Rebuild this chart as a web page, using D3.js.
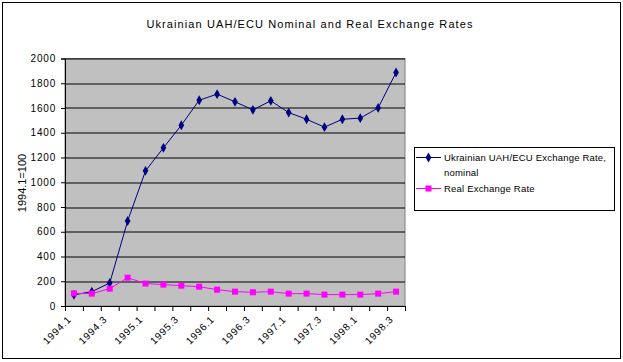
<!DOCTYPE html>
<html>
  <head>
    <script src="https://d3js.org/d3.v7.min.js"></script>
    <style>
      body { margin: 0; background: #fff; }
      text { font-family: "Liberation Sans", Arial, sans-serif; }
    </style>
  </head>
  <body>
    <script>

      // quarters, 1994.1 .. 1998.3
      var quarters = ["1994.1","1994.2","1994.3","1994.4","1995.1","1995.2","1995.3","1995.4",
                      "1996.1","1996.2","1996.3","1996.4","1997.1","1997.2","1997.3","1997.4",
                      "1998.1","1998.2","1998.3"];

      var nominal = [90, 116, 186, 687, 1092, 1278, 1461, 1663, 1712, 1650, 1585, 1658,
                     1563, 1509, 1445, 1509, 1518, 1601, 1887];

      var real = [102, 100, 140, 229, 181, 173, 164, 156, 132, 116, 111, 116,
                  100, 100, 92, 92, 92, 100, 116];

      var yTicks = [0, 200, 400, 600, 800, 1000, 1200, 1400, 1600, 1800, 2000];

      var seriesNames = ["Ukrainian UAH/ECU Exchange Rate,", "nominal", "Real Exchange Rate"];

      var W = 623, H = 362;
      var margin = {top: 58.5, left: 65, right: 218, bottom: 56};
      var w = W - margin.left - margin.right;
      var h = H - margin.top - margin.bottom;

      var svg = d3.select("body").append("svg")
        .attr("width", W)
        .attr("height", H);

      // outer frame
      svg.append("rect")
        .attr("x", 2.5).attr("y", 2.5)
        .attr("width", W - 5).attr("height", H - 6)
        .attr("fill", "#fff")
        .attr("stroke", "#000")
        .attr("stroke-width", 1);

      svg.append("text")
        .attr("x", 310).attr("y", 28)
        .attr("text-anchor", "middle")
        .style("font-size", "11px")
        .style("letter-spacing", "1.1px")
        .text("Ukrainian UAH/ECU Nominal and Real Exchange Rates");

      var g = svg.append("g")
        .attr("transform", `translate(${margin.left},${margin.top})`);

      var x = d3.scaleBand()
        .domain(quarters)
        .range([0, w])
        .padding(0);

      var xEdge = d3.scaleLinear()
        .domain([0, quarters.length])
        .range([0, w]);

      var y = d3.scaleLinear()
        .domain([0, 2000])
        .range([h, 0]);

      // plot area
      g.append("rect")
        .attr("width", w).attr("height", h)
        .attr("fill", "#c0c0c0")
        .attr("stroke", "#808080");

      // gridlines
      g.selectAll(".grid")
        .data(yTicks.slice(1))
        .enter().append("line")
        .attr("x1", 0).attr("x2", w)
        .attr("y1", d => Math.round(y(d)) + 0.5)
        .attr("y2", d => Math.round(y(d)) + 0.5)
        .attr("stroke", "#000");

      // y axis
      var yAxis = g.append("g")
        .call(d3.axisLeft(y).tickValues(yTicks).tickSize(4).tickPadding(5).tickFormat(d3.format("d")));
      yAxis.select(".domain").attr("stroke", "#000");
      yAxis.selectAll("text")
        .style("font-size", "10px")
        .style("letter-spacing", "0.8px")
        .attr("fill", "#000");

      // x axis with ticks on category edges
      var xAxis = g.append("g")
        .attr("transform", `translate(0,${h})`)
        .call(d3.axisBottom(xEdge).tickValues(d3.range(quarters.length + 1)).tickSize(5).tickFormat(""));
      xAxis.select(".domain").attr("stroke", "#000");

      g.selectAll(".xlab")
        .data(quarters.filter((d, i) => i % 2 === 0))
        .enter().append("text")
        .attr("text-anchor", "end")
        .attr("transform", d => `translate(${x(d) + x.bandwidth() / 2 - 2},${h + 14}) rotate(-45)`)
        .style("font-size", "10px")
        .style("letter-spacing", "0.8px")
        .text(d => d);

      // y label
      svg.append("text")
        .attr("transform", "translate(26,183) rotate(-90)")
        .attr("text-anchor", "middle")
        .style("font-size", "11px")
        .text("1994.1=100");

      var line = d3.line()
        .x((d, i) => x(quarters[i]) + x.bandwidth() / 2)
        .y(d => y(d));

      g.append("path")
        .datum(nominal)
        .attr("d", line)
        .attr("fill", "none")
        .attr("stroke", "#000080")
        .attr("stroke-width", 1);

      g.append("path")
        .datum(real)
        .attr("d", line)
        .attr("fill", "none")
        .attr("stroke", "#ff00ff")
        .attr("stroke-width", 1);

      var diamond = d3.symbol().type(d3.symbolDiamond).size(28);

      g.selectAll(".nom")
        .data(nominal)
        .enter().append("path")
        .attr("d", diamond)
        .attr("transform", (d, i) => `translate(${x(quarters[i]) + x.bandwidth() / 2},${y(d)})`)
        .attr("fill", "#000080");

      g.selectAll(".real")
        .data(real)
        .enter().append("rect")
        .attr("x", (d, i) => x(quarters[i]) + x.bandwidth() / 2 - 3)
        .attr("y", d => y(d) - 3)
        .attr("width", 6).attr("height", 6)
        .attr("fill", "#ff00ff");

      // legend
      var legend = svg.append("g").attr("transform", "translate(414,147)");
      legend.append("rect")
        .attr("x", 0.5).attr("y", 0.5)
        .attr("width", 200).attr("height", 63)
        .attr("fill", "#fff")
        .attr("stroke", "#000");

      legend.append("line").attr("x1", 2).attr("x2", 27).attr("y1", 10.5).attr("y2", 10.5)
        .attr("stroke", "#000080");
      legend.append("path").attr("d", diamond)
        .attr("transform", "translate(14.5,10.5)").attr("fill", "#000080");
      legend.append("line").attr("x1", 2).attr("x2", 27).attr("y1", 41.5).attr("y2", 41.5)
        .attr("stroke", "#ff00ff");
      legend.append("rect").attr("x", 11.5).attr("y", 38.5).attr("width", 6).attr("height", 6)
        .attr("fill", "#ff00ff");

      legend.selectAll(".lt")
        .data(seriesNames)
        .enter().append("text")
        .attr("x", 30)
        .attr("y", (d, i) => [14, 29, 45][i])
        .style("font-size", "9.5px")
        .style("letter-spacing", "0.2px")
        .text(d => d);

    </script>
  </body>
</html>
